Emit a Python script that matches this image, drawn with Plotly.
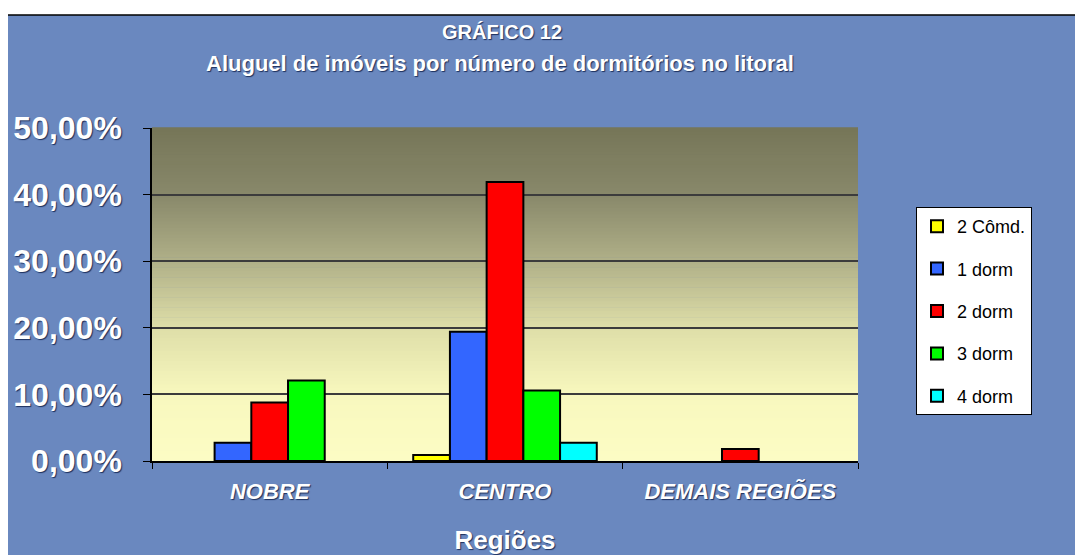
import plotly.graph_objects as go

regioes = ['NOBRE', 'CENTRO', 'DEMAIS REGIÕES']
series = ['2 Cômd.', '1 dorm', '2 dorm', '3 dorm', '4 dorm']

comd_2 = [None, 0.9, None]
dorm_1 = [2.73, 19.4, None]
dorm_2 = [8.79, 41.9, 1.8]
dorm_3 = [12.1, 10.6, None]
dorm_4 = [None, 2.73, None]

valores = [comd_2, dorm_1, dorm_2, dorm_3, dorm_4]
cores = ['#ffff00', '#3366ff', '#ff0000', '#00ff00', '#00ffff']

fig = go.Figure()
for nome, vals, cor in zip(series, valores, cores):
    fig.add_trace(go.Bar(x=regioes, y=vals, name=nome, legendgroup=nome,
                         marker=dict(color=cor, line=dict(color='black', width=2))))

# the page puts the figure 8px in from the corner, so work in figure pixels
L, T, W, H = 144, 120, 706, 333

def px(x):
    return (x - L) / W

def py(y):
    return (T + H - y) / H

# background: blue panel + gradient plot area
shapes = [dict(type='rect', xref='paper', yref='paper', layer='below',
               x0=px(-1), x1=px(1080), y0=py(552), y1=py(7),
               fillcolor='#6a88bf', line=dict(color='black', width=1.5))]

stops = [(0, (252, 252, 196)), (10, (248, 248, 190)), (20, (222, 222, 168)),
         (30, (176, 176, 136)), (40, (136, 136, 106)), (50, (118, 118, 88))]

def cor_em(v):
    for (a, ca), (b, cb) in zip(stops[:-1], stops[1:]):
        if a <= v <= b:
            t = (v - a) / (b - a)
            return 'rgb(%d,%d,%d)' % tuple(round(ca[i] + (cb[i] - ca[i]) * t) for i in range(3))
    return 'rgb(%d,%d,%d)' % stops[-1][1]

n = 100
for i in range(n):
    v0 = 50 * i / n
    v1 = 50 * (i + 1) / n
    shapes.append(dict(type='rect', xref='paper', yref='paper', layer='below',
                       x0=0, x1=1, y0=v0 / 50, y1=v1 / 50 + 0.002,
                       fillcolor=cor_em((v0 + v1) / 2), line=dict(width=0)))

sombra = '1px 1px 1px #1c2f5c'
branco = dict(family='Liberation Sans, Arial', color='white', weight='bold', shadow=sombra)

fig.update_layout(
    width=1075, height=547,
    margin=dict(l=L, r=1075 - L - W, t=T, b=547 - T - H),
    paper_bgcolor='white',
    plot_bgcolor='rgba(0,0,0,0)',
    separators=',.',
    barmode='group', bargap=0.22, bargroupgap=0,
    shapes=shapes,
    font=dict(family='Liberation Sans, Arial'),
    legend=dict(x=px(908), y=py(199), xanchor='left', yanchor='top',
                bgcolor='white', bordercolor='black', borderwidth=1,
                font=dict(size=18, color='black'), tracegroupgap=16,
                itemsizing='constant'),
    annotations=[
        dict(text='GRÁFICO 12', x=px(494), y=py(24), xref='paper', yref='paper',
             xanchor='center', yanchor='middle',
             showarrow=False, font=dict(size=20, **branco)),
        dict(text='Aluguel de imóveis por número de dormitórios no litoral',
             x=px(492), y=py(56), xref='paper', yref='paper',
             xanchor='center', yanchor='middle',
             showarrow=False, font=dict(size=22, **branco)),
    ],
)

fig.update_yaxes(range=[0, 50], dtick=10, tickformat='.2f', ticksuffix='%',
                 automargin=False,
                 showgrid=True, gridcolor='#3c3c3c', gridwidth=1.5,
                 showline=True, linecolor='black', linewidth=1.5,
                 ticks='outside', ticklen=7, tickcolor='black',
                 ticklabelstandoff=15, zeroline=False,
                 tickfont=dict(size=32, **branco))
fig.update_xaxes(automargin=False,
                 showline=True, linecolor='black', linewidth=1.5,
                 ticks='outside', ticklen=6, tickcolor='black', tickson='boundaries',
                 ticklabelstandoff=10,
                 tickfont=dict(size=22, style='italic', **branco),
                 title=dict(text='Regiões', standoff=28, font=dict(size=26, **branco)))

fig.write_html('out.html')
